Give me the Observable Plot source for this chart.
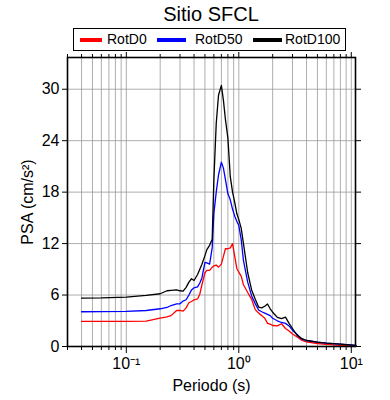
<!DOCTYPE html>
<html><head><meta charset="utf-8">
<script src="https://cdn.jsdelivr.net/npm/d3@7"></script>
<script src="https://cdn.jsdelivr.net/npm/@observablehq/plot@0.6"></script>
<style>
body{margin:0;background:#fff;font-family:"Liberation Sans",Arial,sans-serif;overflow:hidden;}
#wrap{position:relative;width:390px;height:400px;}
#title{position:absolute;left:16px;top:1px;width:390px;text-align:center;font-size:20px;line-height:26px;color:#000;}
#legend{position:absolute;left:73px;top:28px;width:271px;height:21px;border:1.5px solid #000;font-size:14px;}
.item{position:absolute;top:0;height:21px;line-height:21px;}
.sw{position:absolute;top:9px;height:4px;}
#chart{position:absolute;left:0;top:52px;}
</style></head>
<body><div id="wrap">
<div id="title">Sitio SFCL</div>
<div id="legend"></div>
<div id="chart"></div>
</div>
<script>
const periods = [0.04,0.06,0.1,0.15,0.2,0.23,0.25,0.28,0.3,0.32,0.34,0.36,0.38,0.4,0.43,0.45,0.47,0.5,0.52,0.55,0.58,0.6,0.63,0.66,0.7,0.73,0.76,0.8,0.84,0.88,0.92,0.96,1.0,1.05,1.1,1.2,1.3,1.4,1.5,1.6,1.7,1.8,1.9,2.0,2.2,2.4,2.6,2.8,3.0,3.3,3.6,4.0,5.0,6.0,8.0,11.0];
const rotD0 = [2.92,2.92,2.92,2.95,3.3,3.45,3.6,4.2,4.2,4.12,4.5,5.1,5.25,5.45,5.55,6.1,7.2,8.6,8.87,8.87,9.25,9.4,9.5,9.25,9.6,10.5,11.4,11.4,11.5,12.0,10.5,9.1,8.67,8.2,7.2,6.3,5.5,4.3,3.9,3.6,3.3,2.7,2.6,2.45,2.4,2.65,2.1,1.8,1.45,1.1,0.75,0.55,0.35,0.25,0.12,0.03];
const rotD50 = [4.05,4.07,4.1,4.2,4.4,4.55,4.78,4.98,4.98,5.3,5.45,6.0,6.6,6.85,6.95,7.4,8.0,9.8,9.75,9.6,11.5,15.5,18.0,20.0,21.5,20.8,19.5,17.8,17.1,16.0,15.2,14.6,14.1,12.5,10.0,7.5,5.9,5.0,4.25,4.05,3.9,3.75,3.6,3.3,3.0,2.8,2.7,2.4,1.9,1.4,0.9,0.7,0.5,0.4,0.28,0.12];
const rotD100 = [5.64,5.66,5.75,5.95,6.15,6.5,6.55,6.6,6.5,6.45,6.9,7.5,7.9,7.7,8.4,9.0,9.6,10.6,11.3,11.8,12.5,19.4,26.0,29.3,30.45,28.7,26.5,24.3,19.8,18.0,16.8,15.5,14.8,13.8,12.0,8.6,6.6,5.5,4.6,4.5,4.7,4.95,4.4,4.0,3.4,3.25,3.42,2.7,2.1,1.3,0.95,0.7,0.5,0.4,0.28,0.12];
const seriesNames = ["RotD0","RotD50","RotD100"];
const seriesColors = ["#ff0000","#0000ff","#000000"];
const yTicks = [0,6,12,18,24,30];
const yGrid = [6,12,18,24,30];
const xMajor = [0.1,1,10];
const xMajorLabels = ["10\u207B\u00B9","10\u2070","10\u00B9"];
const xMinor = [0.03,0.04,0.05,0.06,0.07,0.08,0.09,0.2,0.3,0.4,0.5,0.6,0.7,0.8,0.9,2,3,4,5,6,7,8,9];
const xGrid = xMinor.concat(xMajor);

// legend
const legendPos = [{sw:6,w:22,tx:33},{sw:83,w:29,tx:121},{sw:179,w:29,tx:211}];
const leg = document.getElementById("legend");
seriesNames.forEach((n,i)=>{
  const s = document.createElement("div");
  s.className="sw"; s.style.left=legendPos[i].sw+"px"; s.style.width=legendPos[i].w+"px"; s.style.background=seriesColors[i];
  leg.appendChild(s);
  const t = document.createElement("div");
  t.className="item"; t.style.left=legendPos[i].tx+"px"; t.textContent=n;
  leg.appendChild(t);
});

const series = [rotD0, rotD50, rotD100];
const rows = periods.flatMap((p,i)=>series.map((arr,k)=>({p, v:arr[i], s:seriesNames[k]})));

const plot = Plot.plot({
  width: 390,
  height: 348,
  marginLeft: 67,
  marginRight: 35,
  marginTop: 5,
  marginBottom: 54,
  style: {fontFamily: '"Liberation Sans", Arial, sans-serif', background: "#fff"},
  x: {type: "log", domain: [0.03, 10.9]},
  y: {domain: [0, 33.7]},
  color: {domain: seriesNames, range: seriesColors},
  marks: [
    Plot.ruleX(xGrid, {stroke: "#999", strokeWidth: 0.8}),
    Plot.ruleY(yGrid, {stroke: "#999", strokeWidth: 0.8}),
    Plot.line(rows, {x: "p", y: "v", z: "s", stroke: "s", strokeWidth: 1.3}),
    Plot.frame({stroke: "#000", strokeWidth: 1.6}),
    Plot.axisX(xMinor, {anchor: "bottom", tickSize: 4, tickFormat: () => "", label: null, stroke: "#000"}),
    Plot.axisX(xMajor, {anchor: "bottom", tickSize: 7, tickPadding: 4, fontSize: 14, tickFormat: (d,i) => xMajorLabels[xMajor.indexOf(d)], label: "Periodo (s)", labelAnchor: "center", labelArrow: "none", labelOffset: 44, stroke: "#000"}),
    Plot.axisX(xMinor, {anchor: "top", tickSize: 4, tickFormat: () => "", label: null, stroke: "#000"}),
    Plot.axisX(xMajor, {anchor: "top", tickSize: 7, tickFormat: () => "", label: null, stroke: "#000"}),
    Plot.axisY(yTicks, {anchor: "left", tickSize: 5, tickPadding: 3, fontSize: 14, label: "PSA (cm/s\u00B2)", labelAnchor: "center", labelArrow: "none", labelOffset: 46, stroke: "#000"}),
    Plot.axisY(yTicks, {anchor: "right", tickSize: 5, tickFormat: () => "", label: null, stroke: "#000"})
  ]
});
plot.querySelectorAll("[aria-label$='label'] text, [aria-label='x-axis label'] text, [aria-label='y-axis label'] text").forEach(t=>t.style.fontSize="16px");
document.getElementById("chart").appendChild(plot);
</script>
</body></html>
